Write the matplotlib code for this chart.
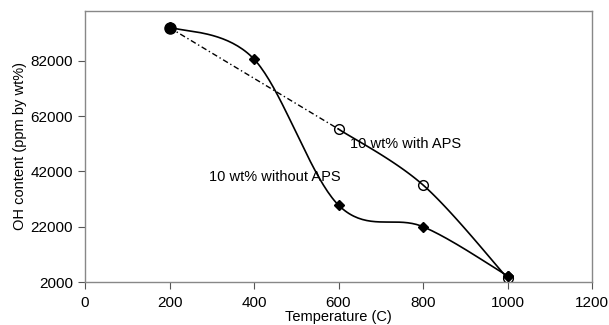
import numpy as np
import matplotlib.pyplot as plt

plt.rcParams['font.family'] = ['Liberation Sans', 'DejaVu Sans']

## Data
temp = [200, 400, 600, 800, 1000]
oh_without = [94200, 82600, 29800, 22000, 4200]

temp_with = [200, 600, 800, 1000]
oh_with = [94000, 57300, 37100, 3400]


def smooth(x, y, n=40):
    # Excel style smoothed line (Catmull-Rom through the points)
    x = np.asarray(x, float)
    y = np.asarray(y, float)
    px = np.concatenate([[x[0]], x, [x[-1]]])
    py = np.concatenate([[y[0]], y, [y[-1]]])
    xs, ys = [], []
    for i in range(1, len(px) - 2):
        t = np.linspace(0, 1, n)
        p0, p1, p2, p3 = [np.array([px[j], py[j]]) for j in range(i - 1, i + 3)]
        c1 = p1 + (p2 - p0) / 6
        c2 = p2 - (p3 - p1) / 6
        b = ((1 - t) ** 3)[:, None] * p1 + (3 * (1 - t) ** 2 * t)[:, None] * c1 \
            + (3 * (1 - t) * t ** 2)[:, None] * c2 + (t ** 3)[:, None] * p2
        xs.append(b[:, 0])
        ys.append(b[:, 1])
    return np.concatenate(xs), np.concatenate(ys)


fig = plt.figure(figsize=(6.09, 3.25), dpi=100)
ax = fig.add_axes([85 / 609, 1 - 282 / 325, 507 / 609, 271 / 325])

sx, sy = smooth(temp, oh_without)
ax.plot(sx, sy, color='black', lw=1.2)
ax.plot(temp, oh_without, 'D', color='black', ms=5)

ax.plot(temp_with[:2], oh_with[:2], color='black', lw=1.0, ls=(0, (4, 2, 1, 2)))
sx2, sy2 = smooth(temp_with[1:], oh_with[1:])
ax.plot(sx2, sy2, color='black', lw=1.2)
ax.plot(temp_with[1:], oh_with[1:], 'o', mfc='white', mec='black', ms=7, mew=1.0, zorder=1)
ax.plot(temp_with[:1], oh_with[:1], 'o', color='black', ms=8)
ax.plot(temp[-1:], oh_without[-1:], 'D', color='black', ms=5, zorder=5)

ax.text(758, 52000, '10 wt% with APS', fontsize=10.5, ha='center', va='center')
ax.text(449, 40000, '10 wt% without APS', fontsize=10.5, ha='center', va='center')

ax.set_xlim(0, 1200)
ax.set_ylim(2000, 100000)
ax.set_xticks([0, 200, 400, 600, 800, 1000, 1200])
ax.set_yticks([2000, 22000, 42000, 62000, 82000])
ax.tick_params(direction='out', labelsize=11, length=5, width=0.8, color='#555555')
ax.tick_params(axis='x', pad=5)
ax.set_xlabel('Temperature (C)', fontsize=10.5, labelpad=0)
ax.set_ylabel('OH content (ppm by wt%)', fontsize=10.5, labelpad=3)
for s in ax.spines.values():
    s.set_color('#888888')
    s.set_linewidth(1.0)

plt.savefig('out.png', dpi=100)
